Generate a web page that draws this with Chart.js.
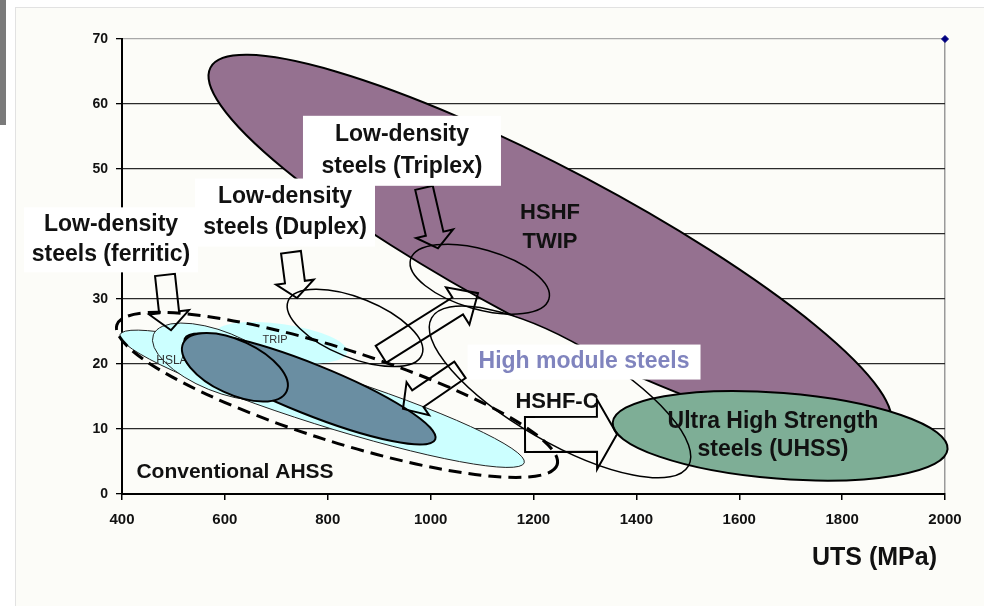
<!DOCTYPE html>
<html>
<head>
<meta charset="utf-8">
<style>
  html, body { margin: 0; padding: 0; background: #ffffff; }
  #frame { position: absolute; left: 15px; top: 7px; width: 969px; height: 599px;
           background: #fcfcf8; border-top: 1px solid #e2e2e2; border-left: 1px solid #e2e2e2; }
  #bar { position: absolute; left: 0; top: 0; width: 6px; height: 125px; background: #7a7a7a; }
  #chartId { position: absolute; left: 0; top: 0; }
</style>
</head>
<body>
<div id="frame"></div>
<div id="bar"></div>
<canvas id="chartId" width="984" height="606"></canvas>

<script src="https://cdn.jsdelivr.net/npm/chart.js"></script>
<script>
// axis ticks
const xTicks = [400, 600, 800, 1000, 1200, 1400, 1600, 1800, 2000];
const yTicks = [0, 10, 20, 30, 40, 50, 60, 70];

// steel families: each region is an ellipse between two (UTS, elongation) ends
const regionNames = ['Conventional AHSS', 'TRIP', 'HSLA', 'AHSS core', 'AHSS core low',
                     'HSHF TWIP', 'HSHF-C', 'UHSS', 'Low-density Triplex', 'Low-density Duplex', 'AHSS envelope'];
const utsFrom   = [396, 580, 461, 522, 519, 572, 1002, 1354, 961, 723, 390];
const elongFrom = [24.5, 24.7, 24.5, 23.9, 23.2, 65.6, 27.1, 11.0, 36.1, 29.7, 26.0];
const utsTo     = [1182, 838, 720, 1009, 720, 1892, 1501, 2005, 1230, 983, 1246];
const elongTo   = [4.8, 21.8, 16.2, 8.4, 15.8, 10.3, 4.3, 6.9, 30.0, 21.4, 4.5];
const elongHalf = [4.0, 2.9, 4.6, 3.85, 4.15, 12.0, 7.7, 6.6, 4.6, 4.6, 7.1];

// arrows (tail -> tip)
const arrowFromUts = [483.6, 728.5, 987.1, 903.5, 1057.1, 1183.5];
const arrowFromEl  = [33.7, 37.2, 47.1, 21.5, 19.1, 9.15];
const arrowToUts   = [495.3, 740.2, 1014.3, 1092.1, 946.3, 1362.3];
const arrowToEl    = [25.2, 30.15, 37.8, 30.9, 13.1, 9.2];

// text labels
const labelTexts = [
  ['Low-density', 'steels (ferritic)'],
  ['Low-density', 'steels (Duplex)'],
  ['Low-density', 'steels (Triplex)'],
  ['HSHF', 'TWIP'],
  ['High module steels'],
  ['HSHF-C'],
  ['Ultra High Strength', 'steels (UHSS)'],
  ['Conventional AHSS'],
  ['TRIP'],
  ['HSLA']
];
const labelUts = [378.6, 716.9, 944.3, 1232.1, 1298.2, 1245.7, 1665.6, 619.7, 697.5, 497];
const labelEl  = [39.1, 43.3, 52.8, 41.0, 20.3, 14.15, 8.9, 3.4, 23.7, 20.5];

// the single data point of the original sheet
const cornerPoint = [{ x: 2000, y: 70 }];

// ---- styles (not data) ----
const LIGHT = '#ccffff', DARK = '#6a8ea2', PURPLE = '#957190', GREEN = '#7eae96';
const regionStyle = [
  { fill: LIGHT, stroke: '#222', lw: 1 },
  { fill: LIGHT, stroke: null, lw: 0 },
  { fill: LIGHT, stroke: '#222', lw: 1 },
  { fill: DARK, stroke: '#000', lw: 2 },
  { fill: DARK, stroke: '#000', lw: 2 },
  { fill: PURPLE, stroke: '#000', lw: 2 },
  { fill: '#fcfcf8', stroke: null, lw: 0 },
  { fill: GREEN, stroke: '#000', lw: 2 },
  { fill: null, stroke: '#000', lw: 1.5 },
  { fill: null, stroke: '#000', lw: 1.5 },
  { fill: null, stroke: '#000', lw: 3, dash: [13, 7] }
];
const arrowStyle = [
  { sw: 10, hw: 20, hl: 18 },
  { sw: 10, hw: 19, hl: 16 },
  { sw: 9, hw: 19, hl: 15 },
  { sw: 10, hw: 22, hl: 24 },
  { sw: 10, hw: 20, hl: 18 },
  { sw: 17.5, hw: 35, hl: 20 }
];
const labelStyle = [
  { size: 23, gap: 30, box: [174, 65] },
  { size: 23, gap: 31, box: [180, 68] },
  { size: 23, gap: 32, box: [198, 70] },
  { size: 22, gap: 29 },
  { size: 23, color: '#8084be', box: [233, 35] },
  { size: 22 },
  { size: 23, gap: 28 },
  { size: 21 },
  { size: 11, color: '#333', bold: false },
  { size: 12, color: '#333', bold: false }
];

const FONT = "'Liberation Sans', Arial, sans-serif";

const regionsPlugin = {
  id: 'regions',
  afterDatasetsDraw(chart) {
    const { ctx, scales: { x, y } } = chart;
    const pxPerEl = Math.abs(y.getPixelForValue(1) - y.getPixelForValue(0));

    function ellipsePath(i) {
      const x1 = x.getPixelForValue(utsFrom[i]), y1 = y.getPixelForValue(elongFrom[i]);
      const x2 = x.getPixelForValue(utsTo[i]), y2 = y.getPixelForValue(elongTo[i]);
      const a = Math.hypot(x2 - x1, y2 - y1) / 2;
      const rot = Math.atan2(y2 - y1, x2 - x1);
      ctx.beginPath();
      ctx.ellipse((x1 + x2) / 2, (y1 + y2) / 2, a, elongHalf[i] * pxPerEl, rot, 0, Math.PI * 2);
    }
    function fillRegion(i) {
      const s = regionStyle[i];
      if (!s.fill) return;
      ellipsePath(i);
      ctx.fillStyle = s.fill;
      ctx.fill();
    }
    function strokeRegion(i, lw) {
      const s = regionStyle[i];
      ellipsePath(i);
      ctx.setLineDash(s.dash || []);
      ctx.lineWidth = lw || s.lw;
      ctx.strokeStyle = s.stroke || '#000';
      ctx.stroke();
      ctx.setLineDash([]);
    }
    function region(i) {
      fillRegion(i);
      if (regionStyle[i].stroke) strokeRegion(i);
    }
    function arrow(i) {
      const s = arrowStyle[i];
      const tx = x.getPixelForValue(arrowFromUts[i]), ty = y.getPixelForValue(arrowFromEl[i]);
      const hx = x.getPixelForValue(arrowToUts[i]), hy = y.getPixelForValue(arrowToEl[i]);
      const len = Math.hypot(hx - tx, hy - ty);
      const dx = (hx - tx) / len, dy = (hy - ty) / len;
      const nx = -dy, ny = dx;
      const bx = hx - dx * s.hl, by = hy - dy * s.hl;
      ctx.beginPath();
      ctx.moveTo(tx + nx * s.sw, ty + ny * s.sw);
      ctx.lineTo(bx + nx * s.sw, by + ny * s.sw);
      ctx.lineTo(bx + nx * s.hw, by + ny * s.hw);
      ctx.lineTo(hx, hy);
      ctx.lineTo(bx - nx * s.hw, by - ny * s.hw);
      ctx.lineTo(bx - nx * s.sw, by - ny * s.sw);
      ctx.lineTo(tx - nx * s.sw, ty - ny * s.sw);
      ctx.closePath();
      ctx.lineWidth = 2;
      ctx.strokeStyle = '#000';
      ctx.lineJoin = 'miter';
      ctx.stroke();
    }
    function label(i) {
      const s = labelStyle[i];
      const lines = labelTexts[i];
      const cx = x.getPixelForValue(labelUts[i]), cy = y.getPixelForValue(labelEl[i]);
      if (s.box) {
        ctx.fillStyle = '#ffffff';
        ctx.fillRect(cx - s.box[0] / 2, cy - s.box[1] / 2, s.box[0], s.box[1]);
      }
      ctx.font = (s.bold === false ? '' : 'bold ') + s.size + 'px ' + FONT;
      ctx.fillStyle = s.color || '#111';
      ctx.textAlign = 'center';
      ctx.textBaseline = 'middle';
      const gap = s.gap || 0;
      lines.forEach((t, k) => {
        ctx.fillText(t, cx, cy + (k - (lines.length - 1) / 2) * gap);
      });
    }

    ctx.save();
    region(0); region(1); region(2);
    label(8); label(9);
    region(3); region(4);
    region(5);
    fillRegion(6);
    region(7);
    strokeRegion(6, 1.5);
    region(8); region(9);
    region(10);
    for (let i = 0; i < arrowFromUts.length; i++) arrow(i);
    for (let i = 0; i < 8; i++) label(i);

    // axis title
    ctx.font = 'bold 25px ' + FONT;
    ctx.fillStyle = '#111';
    ctx.textAlign = 'right';
    ctx.textBaseline = 'middle';
    ctx.fillText('UTS (MPa)', x.right - 8, 558);
    ctx.restore();
  }
};

new Chart(document.getElementById('chartId'), {
  type: 'scatter',
  data: {
    datasets: [{
      data: cornerPoint,
      pointStyle: 'rectRot',
      radius: 3.5,
      backgroundColor: '#000080',
      borderColor: '#000080',
      clip: false
    }]
  },
  options: {
    responsive: false,
    animation: false,
    events: [],
    layout: { padding: { left: 0, right: 39, top: 39, bottom: 0 } },
    plugins: { legend: { display: false }, tooltip: { enabled: false } },
    scales: {
      x: {
        type: 'linear', min: 400, max: 2000,
        afterBuildTicks: s => { s.ticks = xTicks.map(v => ({ value: v })); },
        afterFit: s => { s.height = 112; },
        ticks: { color: '#111', font: { family: FONT, size: 15, weight: 'bold' }, padding: 11,
                 maxRotation: 0, callback: v => String(v) },
        grid: {
          color: c => (c.tick && c.tick.value === 2000) ? '#9a9a9a' : 'rgba(0,0,0,0)',
          tickColor: '#000', tickLength: 6, lineWidth: 1.5
        },
        border: { color: '#000', width: 2 }
      },
      y: {
        min: 0, max: 70,
        afterBuildTicks: s => { s.ticks = yTicks.map(v => ({ value: v })); },
        afterFit: s => { s.width = 122; },
        ticks: { color: '#111', font: { family: FONT, size: 14, weight: 'bold' }, padding: 8,
                 callback: v => String(v) },
        grid: {
          color: c => (c.tick && c.tick.value === 70) ? '#a8a8a8' : '#2a2a2a',
          tickColor: '#000', tickLength: 6, lineWidth: 1.3
        },
        border: { color: '#000', width: 2 }
      }
    }
  },
  plugins: [regionsPlugin]
});
</script>
</body>
</html>
